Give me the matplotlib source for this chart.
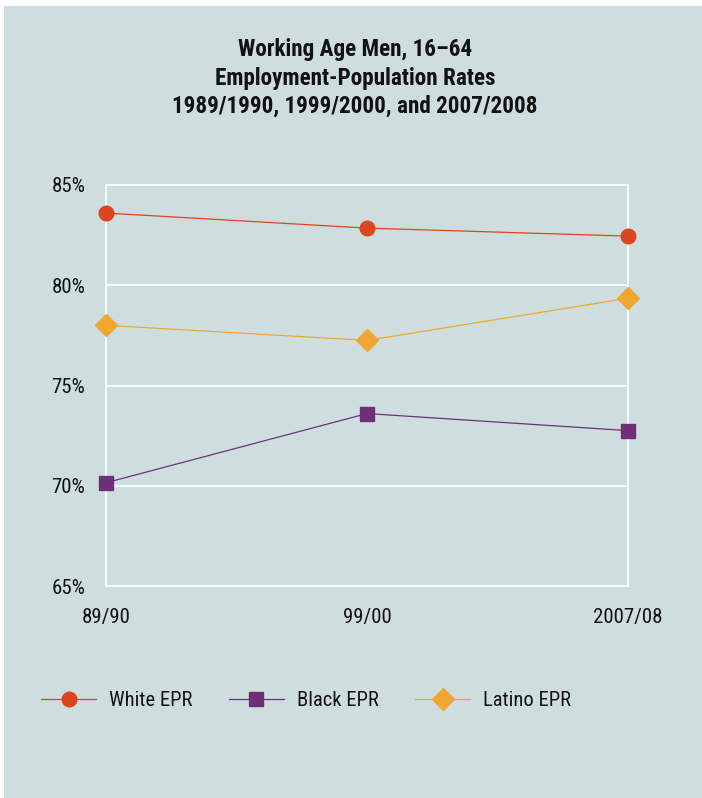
import matplotlib
matplotlib.use('Agg')
import matplotlib.pyplot as plt
from matplotlib.patches import Rectangle

# Employment-population rates, working age men 16-64
periods = ['89/90', '99/00', '2007/08']
white_epr = [83.6, 82.85, 82.45]
black_epr = [70.15, 73.6, 72.75]
latino_epr = [78.0, 77.25, 79.35]
y_ticks = [65, 70, 75, 80, 85]

BG = '#cedede'
RED = '#dc4520'
PURPLE = '#6e2f78'
ORANGE = '#f0a732'

plt.rcParams['font.family'] = ['Roboto Condensed', 'Liberation Sans Narrow',
                               'Liberation Sans', 'DejaVu Sans']

W, H = 702, 798
fig = plt.figure(figsize=(W / 100, H / 100), dpi=100)
fig.patch.set_facecolor('white')
fig.patches.append(Rectangle((4 / W, 0), 1, 1 - 6 / H, transform=fig.transFigure,
                             facecolor=BG, edgecolor='none', zorder=-10))

ax = fig.add_axes([106 / W, (H - 586) / H, (628 - 106) / W, (586 - 185) / H])
ax.patch.set_alpha(0)

x = list(range(len(periods)))
ax.plot(x, white_epr, color=RED, lw=0.9, marker='o', ms=10.5, label='White EPR',
        clip_on=False, zorder=3)
ax.plot(x, black_epr, color=PURPLE, lw=0.9, marker='s', ms=10, label='Black EPR',
        clip_on=False, zorder=3)
ax.plot(x, latino_epr, color=ORANGE, lw=0.9, marker='D', ms=11, label='Latino EPR',
        clip_on=False, zorder=3)

ax.set_xlim(0, len(periods) - 1)
ax.set_ylim(65, 85)
ax.set_yticks(y_ticks)
ax.set_yticklabels([f'{t}%' for t in y_ticks])
ax.set_xticks(x)
ax.set_xticklabels(periods)
ax.tick_params(length=0, labelsize=15, colors='#111111')
ax.tick_params(axis='y', pad=15)
ax.tick_params(axis='x', pad=16)
ax.grid(axis='y', color='white', lw=1.2)
for s in ax.spines.values():
    s.set_color('white')
    s.set_linewidth(1.2)

fig.text(355 / W, 1 - 78 / H,
         'Working Age Men, 16\u201364\nEmployment-Population Rates\n'
         '1989/1990, 1999/2000, and 2007/2008',
         ha='center', va='center', fontsize=16.7, fontweight='bold',
         linespacing=1.3, color='#111111')

fig.legend(loc='center', bbox_to_anchor=(306 / W, 1 - 701 / H), ncol=3,
           frameon=False, fontsize=14.8, handlelength=2.7, handletextpad=0.63,
           columnspacing=1.75, labelcolor='#111111')

fig.savefig('out.png', dpi=100, facecolor=fig.get_facecolor())
